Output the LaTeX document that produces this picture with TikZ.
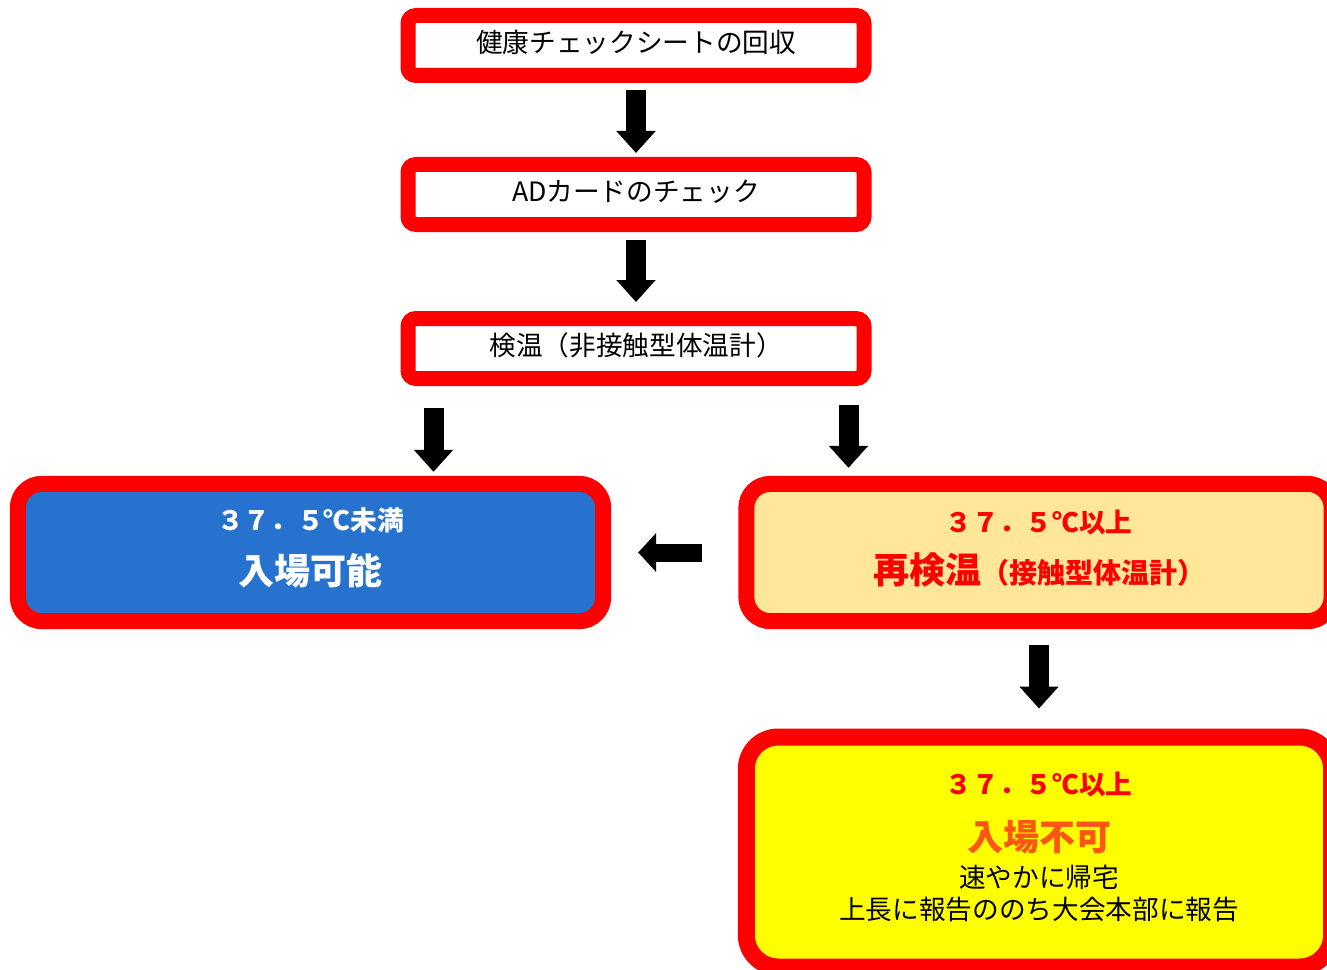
\documentclass[tikz,border=0pt]{standalone}
\usepackage{fontspec}
\setmainfont{Noto Sans CJK JP}
\usetikzlibrary{arrows.meta, positioning, calc}
\definecolor{alertred}{RGB}{255, 0, 0}
\definecolor{okblue}{RGB}{38, 114, 206}
\definecolor{recheckfill}{RGB}{255, 230, 153}
\definecolor{stopyellow}{RGB}{255, 255, 0}
\definecolor{stoporange}{RGB}{255, 85, 20}

\tikzset{
    stepbox/.style={draw=alertred, line width=11.25pt, fill=white, rounded corners=6pt,
        minimum width=342pt, minimum height=45pt, inner sep=0pt,
        text height=16pt, text depth=5pt,
        font=\fontsize{20}{24}\selectfont},
    bigbox/.style={draw=alertred, line width=12pt, rounded corners=18pt,
        minimum width=439pt, minimum height=103pt, inner sep=0pt, align=center,
        font=\fontsize{20}{24}\selectfont\bfseries},
    blockarrow/.style={line width=15pt, -{Triangle[width=28.5pt, length=16.5pt]}},
    sidearrow/.style={line width=13.5pt, -{Triangle[width=28.5pt, length=13.5pt]}}
}

\begin{document}
\begin{tikzpicture}[x=0.75pt, y=-0.75pt]
        \useasboundingbox (0,0) rectangle (1327,970);
        \clip (0,0) rectangle (1327,970);

        % steps
        \node[stepbox] (sheet) at (636,45.5) {健康チェックシートの回収};
        \node[stepbox] (card) at (636,194.5) {ADカードのチェック};
        \node[stepbox] (temp) at (636,348.5) {検温（非接触型体温計）};

        % results
        \node[bigbox, fill=okblue, text=white, text depth=10pt] (ok) at (310.5,552.5) {
            ３７．５℃未満\\[14pt]
            {\fontsize{27}{32}\selectfont 入場可能}
        };
        \node[bigbox, fill=recheckfill, text=alertred, text depth=9pt] (recheck) at (1039,552.5) {
            ３７．５℃以上\\[12pt]
            {\fontsize{27}{32}\selectfont 再検温}{\fontsize{21}{24}\selectfont （接触型体温計）}
        };
        \node[bigbox, fill=stopyellow, line width=12.75pt, rounded corners=24pt,
            minimum height=172.5pt, text=alertred, text depth=9pt] (stop) at (1039,852) {
            ３７．５℃以上\\[16pt]
            {\fontsize{27}{32}\selectfont\color{stoporange} 入場不可}\\[4pt]
            {\mdseries\color{black} 速やかに帰宅}\\
            {\mdseries\color{black} 上長に報告ののち大会本部に報告}
        };

        \coordinate (splitL) at ($(temp.south west)+(33,0)$);
        \coordinate (splitR) at ($(temp.south east)+(-23,0)$);

        % arrows
        \draw[blockarrow, shorten <=5.25pt, shorten >=3pt] (sheet) -- (card);
        \draw[blockarrow, shorten <=6pt, shorten >=6.75pt] (card) -- (temp);
        \draw[blockarrow, shorten <=16.5pt, shorten >=3pt] (splitL) -- (splitL |- ok.north);
        \draw[blockarrow, shorten <=14.25pt, shorten >=6pt] (splitR) -- (splitR |- recheck.north);
        \draw[sidearrow, shorten <=27pt, shorten >=20.25pt] (recheck.west) -- (ok.east);
        \draw[blockarrow, shorten <=12pt, shorten >=15pt] (recheck) -- (stop);
    \end{tikzpicture}
\end{document}
